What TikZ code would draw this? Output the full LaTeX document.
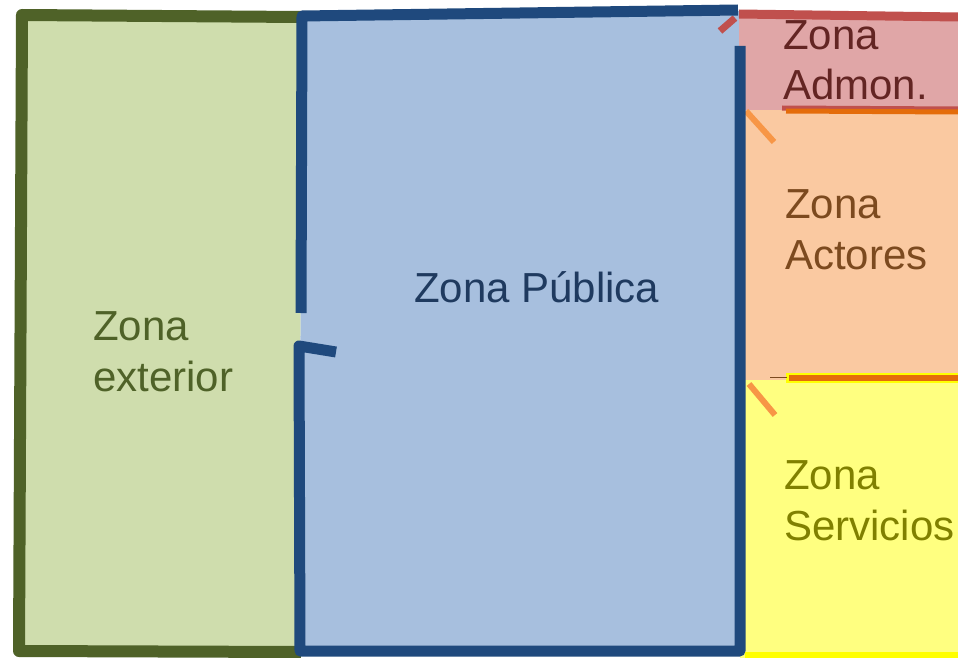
\documentclass[tikz,border=0pt]{standalone}
\usepackage{fontspec}
\setmainfont{Liberation Sans}
\definecolor{extfill}{HTML}{CFDDAD}
\definecolor{extline}{HTML}{4F6228}
\definecolor{pubfill}{HTML}{A7BFDE}
\definecolor{publine}{HTML}{1F497D}
\definecolor{pubtext}{HTML}{1F3A5F}
\definecolor{admfill}{HTML}{E0A6A7}
\definecolor{admline}{HTML}{C0504D}
\definecolor{admtext}{HTML}{632523}
\definecolor{actfill}{HTML}{FAC9A1}
\definecolor{actline}{HTML}{E46C0A}
\definecolor{acttext}{HTML}{7C4A1F}
\definecolor{doorline}{HTML}{F79646}
\definecolor{serfill}{HTML}{FFFF80}
\definecolor{serline}{HTML}{FFFF00}
\definecolor{sertext}{HTML}{808000}
\begin{document}
\begin{tikzpicture}[x=1pt, y=-1pt,
    wall/.style={line width=11pt, line join=round},
    door/.style={line width=6pt},
    zonelabel/.style={anchor=base west, align=left, inner sep=0pt,
        font=\fontsize{42}{51}\selectfont}]
    \useasboundingbox (0,0) rectangle (958,658);
    % fills of the five zones
    \fill[extfill] (22,16) -- (301,17) -- (300,651) -- (20,651) -- cycle;
    \fill[pubfill] (301,16) -- (739,11) -- (740,651) -- (300,651) -- cycle;
    \fill[admfill] (739,13) -- (958,17) -- (958,110) -- (739,110) -- cycle;
    \fill[actfill] (740,110) rectangle (958,380);
    \fill[serfill] (740,380) rectangle (958,658);
    % right: boundaries between the small zones
    \draw[admline, line width=9pt] (739,14) -- (958,17);
    \draw[admline, door, line width=7pt] (720,31) -- (735,18);
    \draw[admline, line width=5pt] (782,108) -- (958,109);
    \draw[actline, line width=5pt] (786,111) -- (958,112);
    \draw[doorline, door] (746,111) -- (774,142);
    \draw[serline, line width=10pt] (786,378) -- (958,378);
    \draw[actline, line width=6pt] (789,378) -- (958,378);
    \draw[acttext, line width=0.8pt] (770,377) -- (787,377);
    \draw[doorline, door] (749,384) -- (775,415);
    \draw[serline, line width=6pt] (745,655) -- (958,655);
    % left: exterior outline
    \draw[extline, wall, line width=12pt] (301,17) -- (22,15) -- (19,651) -- (301,652);
    % middle: public zone walls with the two doors
    \draw[publine, wall] (301,313) -- (302,16) -- (738,10);
    \draw[publine, wall] (740,46) -- (740,651) -- (300,651) -- (299,346) -- (336,352);
    % labels (base is the last line)
    \node[zonelabel, text=extline] (exterior) at (93,391) {Zona\\exterior};
    \node[zonelabel, text=pubtext] (publica) at (414,302) {Zona Pública};
    \node[zonelabel, text=admtext] (admon) at (783,100) {Zona\\Admon.};
    \node[zonelabel, text=acttext] (actores) at (785,269) {Zona\\Actores};
    \node[zonelabel, text=sertext] (servicios) at (784,540) {Zona\\Servicios};
\end{tikzpicture}
\end{document}
